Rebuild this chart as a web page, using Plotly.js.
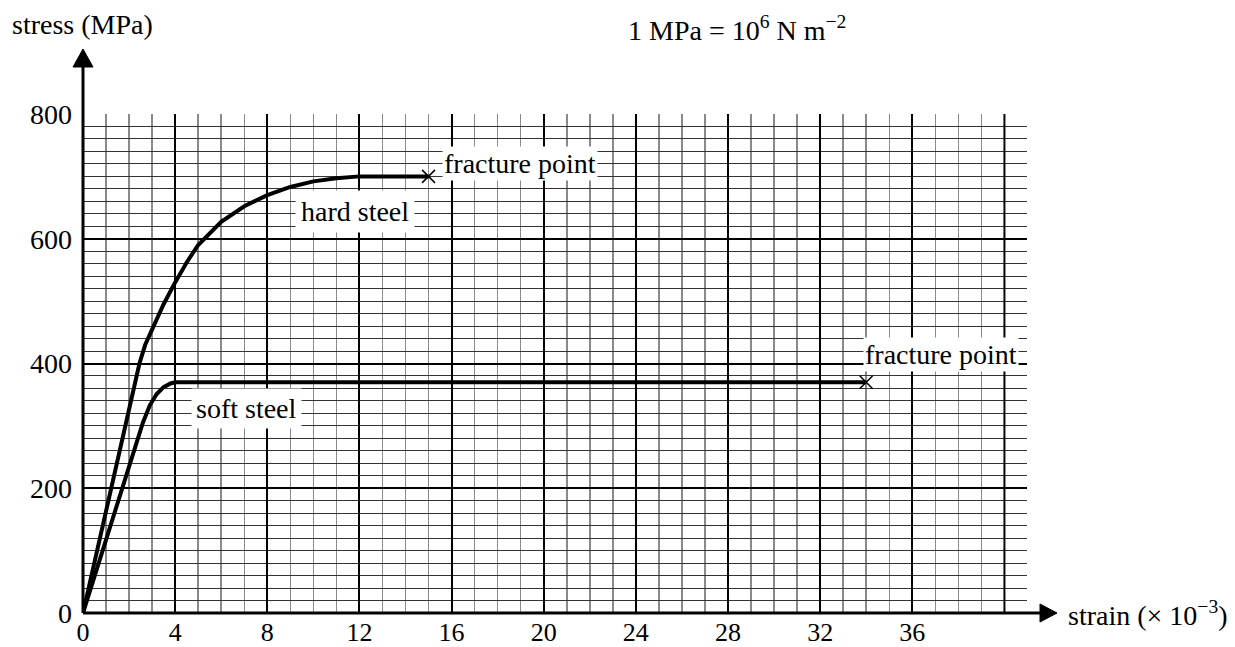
<!DOCTYPE html>
<html>
<head>
<meta charset="utf-8">
<script src="https://cdn.plot.ly/plotly-3.0.1.min.js"></script>
<style>html,body{margin:0;padding:0;background:#fff;}#chart{width:1235px;height:647px;}</style>
</head>
<body>
<div id="chart"></div>
<script>
// Data
const hardStrain = [0, 2.45, 2.7, 3.0, 3.5, 4.0, 4.5, 5.0, 6.0, 7.0, 8.0, 9.0, 10.0, 11.0, 12.0, 15];
const hardStress = [0, 400, 430, 455, 495, 530, 562, 590, 627, 652, 670, 683, 692, 697, 700, 700];
const softStrain = [0, 2.6, 2.9, 3.2, 3.5, 3.8, 4.0, 34];
const softStress = [0, 305, 333, 351, 362, 368, 370, 370];
const fractureStrain = [15, 34];
const fractureStress = [700, 370];
const xTickVals = [0, 4, 8, 12, 16, 20, 24, 28, 32, 36];
const xTickText = ['0', '4', '8', '12', '16', '20', '24', '28', '32', '36'];
const yTickVals = [0, 200, 400, 600, 800];

const FONT = '"Liberation Serif", "Times New Roman", serif';

const traces = [
  {x: hardStrain, y: hardStress, mode: 'lines', line: {color: '#000', width: 4, shape: 'linear'}, hoverinfo: 'skip', showlegend: false},
  {x: softStrain, y: softStress, mode: 'lines', line: {color: '#000', width: 4, shape: 'linear'}, hoverinfo: 'skip', showlegend: false},
  {x: fractureStrain, y: fractureStress, mode: 'markers', marker: {symbol: 'x-thin', size: 13, line: {color: '#000', width: 1.5}}, hoverinfo: 'skip', showlegend: false}
];

// plot area geometry helpers (pixels -> paper)
const L = 83, T = 114, W = 944, H = 499;
const px = v => (v - L) / W;
const py = v => (T + H - v) / H;

const layout = {
  width: 1235, height: 647,
  margin: {l: L, r: 1235 - L - W, t: T, b: 647 - T - H},
  paper_bgcolor: '#fff', plot_bgcolor: '#fff',
  font: {family: FONT, size: 28, color: '#000'},
  xaxis: {
    range: [0, 40.98], tickmode: 'array', tickvals: xTickVals, ticktext: xTickText,
    showgrid: true, gridcolor: '#000', gridwidth: 2,
    minor: {tickmode: 'linear', tick0: 0, dtick: 1, showgrid: true, gridcolor: '#8a8a8a', gridwidth: 1.5},
    zeroline: false, showline: false, ticks: '', ticklabelstandoff: 1,
    tickfont: {family: FONT, size: 26, color: '#000'}, fixedrange: true
  },
  yaxis: {
    range: [0, 800], tickmode: 'array', tickvals: yTickVals,
    showgrid: true, gridcolor: '#000', gridwidth: 2,
    minor: {tickmode: 'linear', tick0: 0, dtick: 20, showgrid: true, gridcolor: '#333', gridwidth: 1},
    zeroline: false, showline: false, ticks: '', ticklabelstandoff: 10,
    tickfont: {family: FONT, size: 28, color: '#000'}, fixedrange: true
  },
  shapes: [
    // major grid line at strain 40 (no label there in the reference)
    {type: 'line', xref: 'x', yref: 'y', x0: 40, x1: 40, y0: 0, y1: 800, line: {color: '#000', width: 2}, layer: 'above'},
    // y axis line + arrow
    {type: 'line', xref: 'paper', yref: 'paper', x0: 0, x1: 0, y0: 0, y1: py(60), line: {color: '#000', width: 3}},
    {type: 'path', xref: 'paper', yref: 'paper',
     path: `M ${px(73)} ${py(67)} L ${px(93)} ${py(67)} L ${px(83)} ${py(49)} Z`,
     fillcolor: '#000', line: {color: '#000', width: 1}},
    // x axis line + arrow
    {type: 'line', xref: 'paper', yref: 'paper', x0: 0, x1: px(1045), y0: 0, y1: 0, line: {color: '#000', width: 3}},
    {type: 'path', xref: 'paper', yref: 'paper',
     path: `M ${px(1040)} ${py(604)} L ${px(1040)} ${py(622)} L ${px(1057)} ${py(613)} Z`,
     fillcolor: '#000', line: {color: '#000', width: 1}}
  ],
  annotations: [
    {text: 'stress (MPa)', xref: 'paper', yref: 'paper', x: px(10), y: py(24), xanchor: 'left', yanchor: 'middle', showarrow: false, font: {family: FONT, size: 28}},
    {text: 'strain (× 10<sup>−3</sup>)', xref: 'paper', yref: 'paper', x: px(1066), y: py(613), xanchor: 'left', yanchor: 'middle', showarrow: false, font: {family: FONT, size: 28}},
    {text: '1 MPa = 10<sup>6</sup> N m<sup>−2</sup>', xref: 'paper', yref: 'paper', x: px(626), y: py(28), xanchor: 'left', yanchor: 'middle', showarrow: false, font: {family: FONT, size: 28}},
    {text: 'fracture point', x: 15.6, y: 721, xanchor: 'left', yanchor: 'middle', showarrow: false, bgcolor: '#fff', borderpad: 1, font: {family: FONT, size: 28}},
    {text: 'fracture point', x: 33.85, y: 415, xanchor: 'left', yanchor: 'middle', showarrow: false, bgcolor: '#fff', borderpad: 1, font: {family: FONT, size: 28}},
    {text: 'hard steel', x: 11.8, y: 644, xanchor: 'center', yanchor: 'middle', showarrow: false, bgcolor: '#fff', borderpad: 5, font: {family: FONT, size: 28}},
    {text: 'soft steel', x: 7.1, y: 328, xanchor: 'center', yanchor: 'middle', showarrow: false, bgcolor: '#fff', borderpad: 4, font: {family: FONT, size: 28}}
  ]
};

Plotly.newPlot('chart', traces, layout, {displayModeBar: false, staticPlot: true});
</script>
</body>
</html>
